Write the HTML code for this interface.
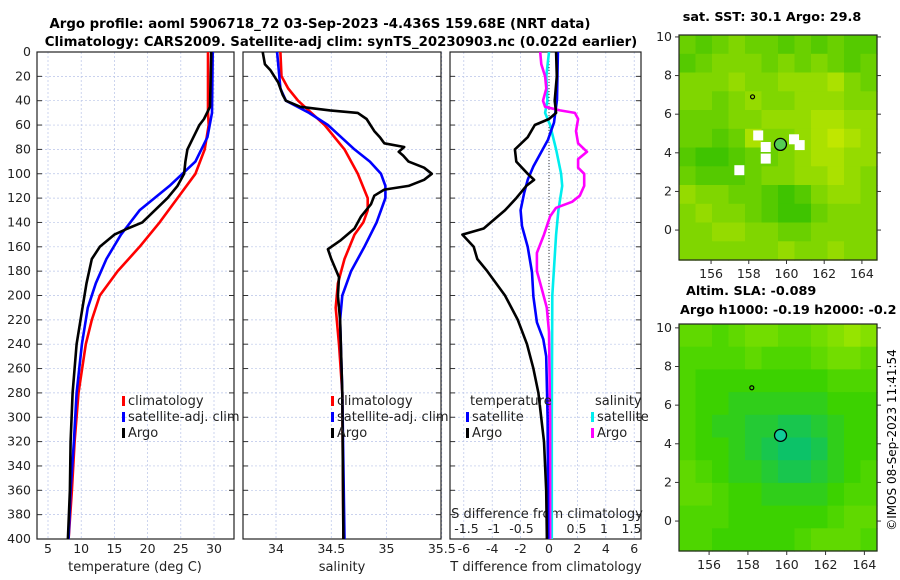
<!DOCTYPE html>
<html><head><meta charset="utf-8"><style>
body{margin:0;background:#fff}
svg{display:block;font-family:"DejaVu Sans","Liberation Sans",sans-serif}
</style></head><body>
<svg id="c" width="900" height="580" viewBox="0 0 900 580">
<defs>
<clipPath id="cp1"><rect x="37" y="52" width="197" height="487"/></clipPath>
<clipPath id="cp2"><rect x="243" y="52" width="198" height="487"/></clipPath>
<clipPath id="cp3"><rect x="450" y="52" width="191" height="487"/></clipPath>
</defs>
<rect width="900" height="580" fill="#fff"/>
<text x="320" y="28" text-anchor="middle" font-size="13.3" font-weight="bold">Argo profile: aoml 5906718_72 03-Sep-2023 -4.436S 159.68E (NRT data)</text>
<text x="341" y="46" text-anchor="middle" font-size="13.3" font-weight="bold">Climatology: CARS2009. Satellite-adj clim: synTS_20230903.nc (0.022d earlier)</text>
<text x="772" y="21" text-anchor="middle" font-size="12.8" font-weight="bold">sat. SST: 30.1 Argo: 29.8</text>
<text x="686" y="295" font-size="12.8" font-weight="bold">Altim. SLA: -0.089</text>
<text x="680" y="314" font-size="12.8" font-weight="bold">Argo h1000: -0.19 h2000: -0.2</text>
<text x="0" y="0" transform="translate(896,440) rotate(-90)" text-anchor="middle" font-size="12">©IMOS 08-Sep-2023 11:41:54</text>
<g id="g"></g>
</svg>
<script>
const depthTicks=[0,20,40,60,80,100,120,140,160,180,200,220,240,260,280,300,320,340,360,380,400];
const tempTicks=[5,10,15,20,25,30];
const salTicks=[34,34.5,35,35.5];
const tdTicks=[-6,-4,-2,0,2,4,6];
const sdTicks=[-1.5,-1,-0.5,0,0.5,1,1.5];
const sdTickLabels=["-1.5","-1","-0.5","0","0.5","1","1.5"];

const tClimD=[0,50,60,80,100,120,140,160,180,200,220,240,280,320,360,400];
const tClimV=[29.1,29.1,29.2,28.6,27.2,24.5,21.8,18.8,15.5,12.8,11.6,10.7,9.6,9.0,8.6,8.1];
const tSatD=[0,50,70,90,110,130,150,170,190,210,240,280,320,360,400];
const tSatV=[29.8,29.7,29.0,27.2,23.3,18.8,16.0,13.8,12.2,11.0,10.1,9.3,8.9,8.4,8.1];
const tArgoD=[0,45,55,60,80,90,100,110,120,140,145,150,160,170,190,210,240,280,320,360,400];
const tArgoV=[29.6,29.4,28.5,27.8,26.0,25.7,25.5,24.5,23.0,19.2,17.0,15.0,12.8,11.6,10.8,10.2,9.3,8.7,8.4,8.3,8.0];

const sClimD=[0,20,30,40,50,60,80,100,120,130,140,150,170,190,210,240,280,400];
const sClimV=[34.04,34.05,34.11,34.2,34.32,34.44,34.62,34.74,34.83,34.83,34.79,34.71,34.62,34.56,34.54,34.57,34.6,34.61];
const sSatD=[0,20,30,40,50,60,80,90,100,110,120,140,160,180,200,220,280,400];
const sSatV=[34.01,34.03,34.04,34.09,34.3,34.47,34.71,34.85,34.95,34.99,34.99,34.91,34.8,34.68,34.6,34.58,34.6,34.62];
const sArgoD=[0,10,15,25,35,40,45,48,50,55,65,70,75,78,82,85,90,95,100,105,110,113,118,125,135,145,155,162,170,185,200,220,280,400];
const sArgoV=[33.88,33.9,33.95,34.02,34.06,34.09,34.22,34.49,34.74,34.82,34.89,34.94,34.98,35.16,35.11,35.15,35.2,35.34,35.41,35.34,35.2,34.98,34.89,34.86,34.77,34.71,34.58,34.47,34.5,34.57,34.56,34.58,34.6,34.61];

const dtSatD=[0,39,58,72,94,105,116,130,143,160,181,201,222,236,250,300,400];
const dtSatV=[0.63,0.56,0.35,-0.07,-1.1,-1.5,-1.75,-2.0,-1.9,-1.5,-1.2,-1.1,-0.85,-0.4,-0.2,-0.1,-0.05];
const dtArgoD=[0,20,40,50,55,60,70,80,90,100,105,110,120,130,140,145,150,160,170,180,200,220,240,260,280,300,320,360,400];
const dtArgoV=[0.5,0.55,0.4,0.5,0,-1,-1.5,-2.4,-2.3,-1.5,-1.05,-1.6,-2.3,-3.1,-4.1,-4.6,-6.1,-5.3,-5.05,-4.35,-3.1,-2.2,-1.55,-1.1,-0.75,-0.55,-0.35,-0.2,-0.15];
const dsSatD=[0,20,40,50,60,80,100,110,130,150,200,300,400];
const dsSatV=[0,-0.05,-0.03,-0.07,0.02,0.13,0.22,0.24,0.17,0.13,0.06,0.05,0.05];
const dsArgoD=[0,10,20,30,40,45,48,50,55,65,75,82,88,95,100,110,118,123,128,135,150,165,180,195,210,230,300,400];
const dsArgoV=[-0.16,-0.14,-0.07,-0.05,-0.11,-0.07,0.2,0.47,0.53,0.49,0.53,0.69,0.53,0.53,0.64,0.64,0.56,0.42,0.13,0.02,-0.09,-0.22,-0.22,-0.13,-0.04,0,0.02,0.02];

const sstGrid=[
[.4,.3,.4,.5,.4,.4,.3,.4,.3,.4,.3,.3],
[.3,.4,.5,.5,.5,.4,.5,.4,.5,.4,.3,.4],
[.5,.5,.5,.6,.5,.5,.6,.6,.6,.7,.5,.4],
[.5,.5,.4,.5,.6,.5,.5,.6,.6,.6,.5,.5],
[.4,.4,.4,.5,.5,.6,.6,.6,.7,.7,.6,.6],
[.4,.4,.3,.4,.7,.5,.5,.6,.7,.8,.7,.6],
[.3,.2,.2,.3,.4,.4,.5,.6,.7,.7,.6,.6],
[.4,.3,.3,.3,.4,.5,.5,.6,.6,.7,.6,.5],
[.6,.5,.5,.4,.4,.3,.2,.3,.5,.6,.6,.5],
[.5,.6,.5,.5,.4,.3,.2,.2,.4,.5,.5,.5],
[.5,.5,.6,.6,.5,.5,.4,.4,.5,.5,.5,.5],
[.5,.5,.5,.5,.5,.5,.6,.5,.5,.6,.5,.5]];
const sstMissingLon=[158.5,158.9,158.9,160.4,160.7,157.5];
const sstMissingLat=[4.9,4.3,3.7,4.7,4.4,3.1];
const slaGrid=[
[.3,.3,.4,.3,.2,.2,.3,.3,.2,.1,0,.1],
[.4,.4,.4,.4,.3,.4,.4,.4,.3,.2,.2,.3],
[.4,.5,.5,.5,.5,.5,.5,.5,.5,.4,.4,.4],
[.4,.5,.5,.6,.6,.6,.6,.6,.6,.5,.5,.5],
[.4,.5,.6,.6,.7,.7,.8,.8,.7,.6,.5,.5],
[.4,.5,.5,.6,.7,.8,.9,.9,.8,.6,.5,.5],
[.3,.4,.5,.6,.6,.7,.8,.8,.7,.6,.5,.4],
[.3,.3,.4,.5,.5,.6,.6,.6,.6,.5,.4,.4],
[.4,.4,.4,.5,.5,.5,.5,.5,.5,.4,.3,.3],
[.4,.4,.5,.5,.5,.5,.5,.4,.3,.3,.3,.4]];
const lonTicks=[156,158,160,162,164];
const latTicks=[0,2,4,6,8,10];
const argoLon=159.68, argoLat=4.436;

const NS='http://www.w3.org/2000/svg';
const G=document.getElementById('g');
function mk(t,a,p){const e=document.createElementNS(NS,t);for(const k in a)e.setAttribute(k,a[k]);(p||G).appendChild(e);return e;}
function yD(d){return 52+(d/400)*487;}
const pTop=52,pBot=539;
function panel(x0,x1,xs,ticks,name){
  const g=mk('g',{});
  
  
  ticks.forEach(v=>{const l=mk('line',{x1:xs(v),x2:xs(v),y1:pTop,y2:pBot,stroke:'#b8c4e8','stroke-width':0.7,'stroke-dasharray':'2,2'},g);
    
    });
  depthTicks.forEach(d=>{const l=mk('line',{x1:x0,x2:x1,y1:yD(d),y2:yD(d),stroke:'#b8c4e8','stroke-width':0.7,'stroke-dasharray':'2,2'},g);
    
    
    mk('line',{x1:x0,x2:x0+5,y1:yD(d),y2:yD(d),stroke:'#333'},g);mk('line',{x1:x1-5,x2:x1,y1:yD(d),y2:yD(d),stroke:'#333'},g);});
  const r=mk('rect',{x:x0,y:pTop,width:x1-x0,height:pBot-pTop,fill:'none',stroke:'#222','stroke-width':1.2},g);
  
  
  return g;
}
function line(g,xs,D,V,col,name,clip){
  const p=D.map((d,i)=>(i?'L':'M')+xs(V[i]).toFixed(1)+','+yD(d).toFixed(1)).join('');
  const e=mk('path',{d:p,fill:'none',stroke:col,'stroke-width':2.6,'stroke-linejoin':'round','clip-path':'url(#'+clip+')'},g);
  
  
}
function txt(g,x,y,s,o){const e=mk('text',Object.assign({x:x,y:y,'font-size':12,fill:'#222'},o||{}),g);e.textContent=s;return e;}
function legend(g,x,y,col,label,name){
  const r=mk('rect',{x:x,y:y-9,width:3,height:10,fill:col},g);
  
  
  const t=txt(g,x+6,y,label,{'font-size':13});
  
  
}
const xT=v=>48+(v-5)*(166/25);
const g1=panel(37,234,xT,tempTicks,'temperature-panel');
depthTicks.forEach(d=>{const t=txt(g1,31,yD(d)+4,String(d),{'text-anchor':'end','font-size':12.5});
  
  });
tempTicks.forEach(v=>{const t=txt(g1,xT(v),553,String(v),{'text-anchor':'middle','font-size':12.5});
  
  });
{const t=txt(g1,135,571,'temperature (deg C)',{'text-anchor':'middle','font-size':13});
  
  }
line(g1,xT,tClimD,tClimV,'#f00','temp-climatology-line','cp1');
line(g1,xT,tSatD,tSatV,'#00f','temp-satellite-line','cp1');
line(g1,xT,tArgoD,tArgoV,'#000','temp-argo-line','cp1');
legend(g1,122,405,'#f00','climatology','legend-climatology');
legend(g1,122,421,'#00f','satellite-adj. clim','legend-satellite');
legend(g1,122,437,'#000','Argo','legend-argo');
const xS=v=>276+(v-34)*110.5;
const g2=panel(243,441,xS,salTicks,'salinity-panel');
salTicks.forEach(v=>{const t=txt(g2,xS(v),553,String(v),{'text-anchor':'middle','font-size':12.5});
  
  });
{const t=txt(g2,342,571,'salinity',{'text-anchor':'middle','font-size':13});
  
  }
line(g2,xS,sClimD,sClimV,'#f00','sal-climatology-line','cp2');
line(g2,xS,sSatD,sSatV,'#00f','sal-satellite-line','cp2');
line(g2,xS,sArgoD,sArgoV,'#000','sal-argo-line','cp2');
legend(g2,331,405,'#f00','climatology','legend-sal-climatology');
legend(g2,331,421,'#00f','satellite-adj. clim','legend-sal-satellite');
legend(g2,331,437,'#000','Argo','legend-sal-argo');
const xDT=v=>549+v*14.2;
const xDS=v=>549+v*55;
const g3=panel(450,641,xDT,tdTicks,'difference-panel');
{const z=mk('line',{x1:549,x2:549,y1:pTop,y2:pBot,stroke:'#333','stroke-dasharray':'1,2'},g3);
  
  }
tdTicks.forEach(v=>{const t=txt(g3,xDT(v),553,String(v),{'text-anchor':'middle','font-size':12.5});
  
  });
sdTicks.forEach((v,i)=>{const t=txt(g3,xDS(v),533,sdTickLabels[i],{'text-anchor':'middle','font-size':12.5});
  
  });
{const t=txt(g3,546,571,'T difference from climatology',{'text-anchor':'middle','font-size':13});
  
  }
{const t=txt(g3,547,518,'S difference from climatology',{'text-anchor':'middle','font-size':13});
  
  }
line(g3,xDS,dsSatD,dsSatV,'#0ee','sdiff-satellite-line','cp3');
line(g3,xDS,dsArgoD,dsArgoV,'#f0f','sdiff-argo-line','cp3');
line(g3,xDT,dtSatD,dtSatV,'#00f','tdiff-satellite-line','cp3');
line(g3,xDT,dtArgoD,dtArgoV,'#000','tdiff-argo-line','cp3');
{const t=txt(g3,470,405,'temperature',{'font-size':13});
  
  }
{const t=txt(g3,595,405,'salinity',{'font-size':13});
  
  }
legend(g3,466,421,'#00f','satellite','legend-tdiff-satellite');
legend(g3,466,437,'#000','Argo','legend-tdiff-argo');
legend(g3,591,421,'#0ee','satellite','legend-sdiff-satellite');
legend(g3,591,437,'#f0f','Argo','legend-sdiff-argo');
function lerp(a,b,t){return a.map((v,i)=>Math.round(v+(b[i]-v)*t));}
function sstCol(v){return 'rgb('+lerp([20,185,0],[235,242,0],v).join(',')+')';}
function slaCol(v){return v<0.5?'rgb('+lerp([150,228,0],[60,210,0],v*2).join(',')+')':'rgb('+lerp([60,210,0],[0,190,130],(v-0.5)*2).join(',')+')';}
function map(x0,x1,y0,y1,lonA,lonB,latA,latB,grid,colf,name){
  const g=mk('g',{});
  
  
  const X=l=>x0+(l-lonA)/(lonB-lonA)*(x1-x0), Y=l=>y0+(latB-l)/(latB-latA)*(y1-y0);
  const R=grid.length,C=grid[0].length,cw=(x1-x0)/C,ch=(y1-y0)/R;
  grid.forEach((row,r)=>row.forEach((v,c)=>{const e=mk('rect',{x:(x0+c*cw).toFixed(1),y:(y0+r*ch).toFixed(1),width:(cw+0.6).toFixed(1),height:(ch+0.6).toFixed(1),fill:colf(v)},g);
    
    }));
  const f=mk('rect',{x:x0,y:y0,width:x1-x0,height:y1-y0,fill:'none',stroke:'#222','stroke-width':1.2},g);
  
  
  lonTicks.forEach(v=>{mk('line',{x1:X(v),x2:X(v),y1:y1,y2:y1+4,stroke:'#333'},g);const t=txt(g,X(v),y1+18,String(v),{'text-anchor':'middle','font-size':12.5});
    
    });
  latTicks.forEach(v=>{mk('line',{x1:x0-4,x2:x0,y1:Y(v),y2:Y(v),stroke:'#333'},g);mk('line',{x1:x1,x2:x1+4,y1:Y(v),y2:Y(v),stroke:'#333'},g);const t=txt(g,x0-7,Y(v)+4,String(v),{'text-anchor':'end','font-size':12.5});
    
    });
  const isl=mk('circle',{cx:X(158.2),cy:Y(6.9),r:2,fill:'none',stroke:'#000','stroke-width':1.2},g);
  
  
  return {g:g,X:X,Y:Y};
}
const m1=map(679,877,35,260,154.3,164.8,-1.55,10.1,sstGrid,sstCol,'sst-map');
sstMissingLon.forEach((lo,i)=>{const e=mk('rect',{x:m1.X(lo)-5,y:m1.Y(sstMissingLat[i])-5,width:10,height:10,fill:'#fff'},m1.g);
  
  });
{const c=mk('circle',{cx:m1.X(argoLon),cy:m1.Y(argoLat),r:6,fill:'#5c5',stroke:'#000','stroke-width':1.3},m1.g);
  
  }
const m2=map(679,877,324,551,154.45,164.65,-1.55,10.2,slaGrid,slaCol,'sla-map');
{const c=mk('circle',{cx:m2.X(argoLon),cy:m2.Y(argoLat),r:6,fill:'#1c9',stroke:'#000','stroke-width':1.3},m2.g);
  
  }
</script>
</body></html>
